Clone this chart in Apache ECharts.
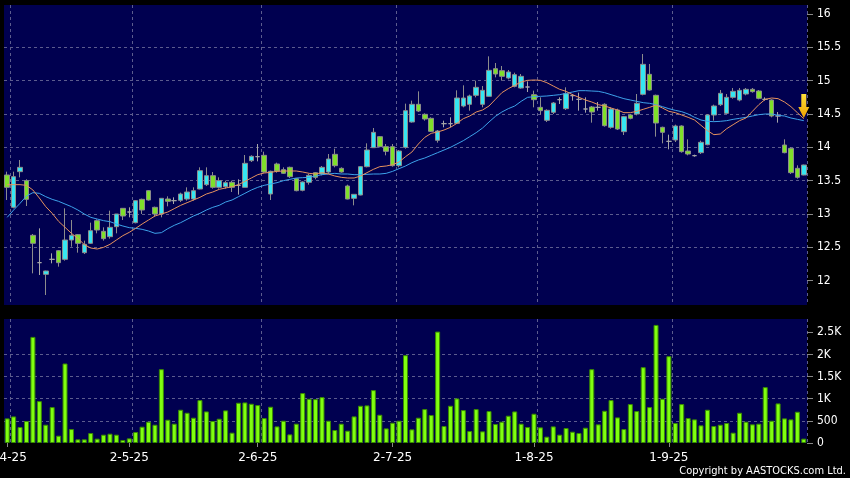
<!DOCTYPE html>
<html><head><meta charset="utf-8">
<script src="https://cdn.jsdelivr.net/npm/echarts@6/dist/echarts.min.js"></script>
<style>html,body{margin:0;padding:0;background:#000;}#c{width:850px;height:478px;}</style>
</head><body><div id="c"></div>
<script>
// x-axis tick labels (first trading day of each month) and their bar indices
const tickLabels = ['1-4-25','2-5-25','2-6-25','2-7-25','1-8-25','1-9-25'];
const tickIndex = [0,19,39,60,82,103];
const priceTicks = [12,12.5,13,13.5,14,14.5,15,15.5,16];
const volTicks = [0,500,1000,1500,2000,2500];

const open = [13.585,13.10,13.635,13.50,12.68,12.27,12.095,12.32,12.45,12.32,
12.61,12.69,12.42,12.56,12.90,12.74,12.66,12.81,13.085,13.03,
12.87,13.22,13.35,13.10,13.00,13.225,13.20,13.205,13.225,13.225,
13.375,13.44,13.575,13.40,13.41,13.475,13.43,13.40,13.80,13.86,
13.88,13.30,13.75,13.665,13.70,13.53,13.355,13.475,13.62,13.60,
13.63,13.895,13.685,13.42,13.235,13.285,13.71,13.995,14.16,14.01,
14.01,13.725,14.00,14.38,14.645,14.495,14.435,14.105,14.355,14.355,
14.36,14.62,14.645,14.78,14.645,14.765,15.18,15.15,15.04,14.915,
14.89,14.905,14.79,14.60,14.405,14.525,14.715,14.58,14.775,14.72,
14.575,14.605,14.60,14.645,14.30,14.56,14.235,14.485,14.50,14.795,
15.095,14.78,14.30,14.09,14.11,14.32,13.945,13.875,13.92,14.04,
14.485,14.64,14.51,14.75,14.71,14.80,14.87,14.845,14.72,14.71,
14.47,14.035,13.985,13.685,13.585];
const close = [13.40,13.56,13.70,13.22,12.56,12.27,12.145,12.32,12.27,12.61,
12.68,12.56,12.545,12.75,12.76,12.63,12.80,13.00,12.97,13.03,
13.20,13.06,13.21,13.00,13.235,13.19,13.20,13.30,13.33,13.35,
13.65,13.575,13.40,13.50,13.47,13.40,13.43,13.76,13.865,13.86,
13.63,13.64,13.645,13.61,13.56,13.35,13.48,13.58,13.55,13.70,
13.825,13.725,13.63,13.225,13.295,13.71,13.96,14.225,14.01,13.94,
13.725,13.945,14.55,14.645,14.545,14.425,14.24,14.245,14.355,14.355,
14.74,14.74,14.77,14.90,14.855,15.155,15.10,15.065,15.13,15.09,
15.065,14.905,14.715,14.55,14.555,14.665,14.715,14.805,14.775,14.72,
14.575,14.53,14.60,14.325,14.575,14.275,14.46,14.435,14.66,15.245,
14.86,14.365,14.225,14.09,14.32,13.935,13.90,13.875,14.075,14.485,
14.62,14.81,14.75,14.84,14.855,14.87,14.835,14.735,14.72,14.47,
14.47,13.92,13.62,13.55,13.735];
const low = [13.21,13.085,13.55,13.12,12.11,12.085,11.785,12.26,12.21,12.30,
12.51,12.42,12.40,12.55,12.71,12.60,12.63,12.71,12.91,12.95,
12.86,13.00,13.20,12.96,12.95,13.115,13.15,13.18,13.20,13.20,
13.37,13.42,13.38,13.38,13.38,13.33,13.29,13.40,13.78,13.79,
13.62,13.21,13.62,13.60,13.54,13.34,13.34,13.44,13.52,13.58,
13.60,13.70,13.62,13.22,13.13,13.28,13.70,13.99,14.00,13.88,
13.71,13.70,13.98,14.37,14.53,14.40,14.23,14.07,14.30,14.30,
14.35,14.60,14.55,14.75,14.60,14.76,15.05,15.00,15.02,14.90,
14.88,14.83,14.60,14.49,14.38,14.50,14.65,14.56,14.70,14.55,
14.52,14.37,14.55,14.31,14.28,14.26,14.185,14.42,14.48,14.78,
14.85,14.16,14.06,13.97,14.08,13.92,13.88,13.86,13.90,14.03,
14.40,14.62,14.50,14.73,14.69,14.78,14.82,14.72,14.70,14.45,
14.37,13.91,13.60,13.53,13.58];
const high = [13.635,13.635,13.81,13.52,12.70,12.785,12.15,12.41,12.46,13.085,
12.91,12.70,12.60,12.87,12.92,12.80,13.05,13.00,13.09,13.10,
13.21,13.23,13.36,13.11,13.24,13.265,13.25,13.32,13.40,13.40,
13.70,13.70,13.63,13.55,13.50,13.50,13.52,13.885,13.88,14.05,
13.935,13.65,13.77,13.70,13.71,13.54,13.49,13.60,13.63,13.72,
13.90,13.98,13.70,13.44,13.30,13.72,14.06,14.29,14.17,14.05,
14.05,13.96,14.655,14.70,14.84,14.51,14.45,14.26,14.40,14.45,
14.855,14.93,14.79,15.00,14.92,15.365,15.265,15.22,15.16,15.12,
15.10,14.99,14.85,14.75,14.57,14.68,14.75,14.90,14.80,14.82,
14.75,14.62,14.68,14.66,14.60,14.58,14.47,14.50,14.80,15.40,
15.25,14.79,14.31,14.19,14.34,14.33,14.12,13.89,14.10,14.50,
14.64,14.86,14.80,14.89,14.89,14.89,14.89,14.86,14.75,14.72,
14.53,14.12,14.00,13.73,13.74];
const volume = [556,600,360,496,2396,946,413,811,165,1795,
315,83,83,225,98,188,210,188,68,105,
248,368,481,413,1667,526,436,751,683,571,
969,713,496,548,736,233,909,916,886,856,
563,819,375,503,195,436,1127,999,991,1036,
503,293,436,278,601,841,849,1194,638,330,
458,503,1983,308,571,766,631,2516,383,841,
1006,743,270,766,263,721,428,481,616,713,
436,360,661,353,143,375,188,338,255,225,
345,1667,421,728,969,578,315,879,721,1712,
811,2666,999,1960,451,879,563,533,398,751,
383,413,451,233,683,481,421,436,1262,503,
894,556,533,706,98];
const maShort = [13.44,13.44,13.44,13.43,13.36,13.24,13.11,13.01,12.89,12.80,
12.71,12.635,12.54,12.49,12.475,12.50,12.545,12.61,12.675,12.725,
12.785,12.85,12.91,12.97,13.00,13.03,13.08,13.13,13.17,13.21,
13.25,13.30,13.33,13.37,13.39,13.41,13.44,13.49,13.54,13.59,
13.615,13.625,13.64,13.645,13.645,13.645,13.63,13.61,13.60,13.62,
13.60,13.57,13.55,13.54,13.54,13.57,13.62,13.67,13.71,13.72,
13.74,13.78,13.86,13.93,14.05,14.15,14.21,14.23,14.26,14.30,
14.36,14.43,14.47,14.53,14.56,14.62,14.72,14.82,14.88,14.93,
14.98,15.005,15.01,15.005,14.97,14.92,14.87,14.84,14.79,14.75,
14.71,14.68,14.64,14.62,14.59,14.56,14.52,14.52,14.54,14.57,
14.60,14.635,14.59,14.54,14.52,14.485,14.45,14.41,14.33,14.25,
14.19,14.20,14.28,14.34,14.40,14.44,14.54,14.64,14.72,14.74,
14.73,14.68,14.61,14.52,14.43];
const maLong = [12.95,13.06,13.16,13.27,13.32,13.31,13.26,13.22,13.19,13.15,
13.11,13.06,13.00,12.95,12.925,12.90,12.885,12.85,12.82,12.795,
12.785,12.77,12.745,12.71,12.72,12.78,12.83,12.87,12.92,12.97,
13.01,13.06,13.10,13.13,13.18,13.21,13.26,13.31,13.36,13.40,
13.43,13.45,13.47,13.50,13.52,13.54,13.545,13.55,13.57,13.59,
13.60,13.61,13.60,13.60,13.59,13.59,13.595,13.60,13.60,13.61,
13.64,13.68,13.72,13.77,13.81,13.84,13.88,13.92,13.96,14.00,
14.05,14.10,14.16,14.22,14.29,14.38,14.465,14.53,14.58,14.62,
14.69,14.75,14.76,14.765,14.77,14.78,14.79,14.81,14.83,14.85,
14.85,14.845,14.84,14.82,14.79,14.76,14.73,14.71,14.69,14.67,
14.66,14.64,14.61,14.58,14.555,14.535,14.50,14.45,14.41,14.39,
14.385,14.39,14.40,14.42,14.435,14.45,14.47,14.49,14.50,14.50,
14.48,14.47,14.44,14.42,14.40];
const signalPrice = 14.62; // down-arrow marker on the last bar

const N = open.length;
const categories = open.map((_, i) => String(i));
const candles = open.map((o, i) => [o, close[i], low[i], high[i]]);
const gridLineIdx = tickIndex.map(i => i + 1);

const FONT = '"DejaVu Sans", sans-serif';
const FONT_C = '"DejaVu Sans Condensed", "DejaVu Sans", sans-serif';
const dash = {color: '#5c5c8e', type: [3, 3], width: 1};
const PANEL = '#000050';

const chart = echarts.init(document.getElementById('c'), null, {renderer: 'canvas', width: 850, height: 478});
chart.setOption({
  backgroundColor: '#000000',
  animation: false,
  grid: [
    {left: 4, right: 43, top: 5, height: 300, show: true, backgroundColor: PANEL, borderWidth: 0, containLabel: false, outerBoundsMode: 'none'},
    {left: 4, right: 43, top: 319, height: 124, show: true, backgroundColor: PANEL, borderWidth: 0, containLabel: false, outerBoundsMode: 'none'}
  ],
  xAxis: [
    {type: 'category', gridIndex: 0, data: categories, boundaryGap: true,
     axisLine: {show: false}, axisTick: {show: false}, axisLabel: {show: false},
     splitLine: {show: true, interval: (i) => gridLineIdx.includes(i), lineStyle: dash}},
    {type: 'category', gridIndex: 1, data: categories, boundaryGap: true,
     axisLine: {show: false},
     axisTick: {show: true, alignWithLabel: true, length: 4, interval: (i) => tickIndex.includes(i), lineStyle: {color: '#888'}},
     axisLabel: {show: true, interval: (i) => tickIndex.includes(i), color: '#ffffff', fontSize: 12, fontFamily: FONT, margin: 9,
       hideOverlap: false,
       formatter: (v, i) => { const k = tickIndex.indexOf(Number(v)); return k >= 0 ? tickLabels[k] : ''; }},
     splitLine: {show: true, interval: (i) => gridLineIdx.includes(i), lineStyle: dash}}
  ],
  yAxis: [
    {type: 'value', gridIndex: 0, position: 'right', min: 11.635, max: 16.135, splitNumber: 8, scale: true,
     axisLine: {show: false},
     axisTick: {show: true, length: 6, customValues: priceTicks, lineStyle: {color: '#888'}},
     axisLabel: {color: '#ffffff', fontSize: 12, fontFamily: FONT_C, margin: 10, customValues: priceTicks},
     splitLine: {show: true, lineStyle: dash, showMinLine: false, showMaxLine: false}},
    {type: 'value', gridIndex: 1, position: 'right', min: 0, max: 2800, interval: 500,
     axisLine: {show: false},
     axisTick: {show: true, length: 6, customValues: volTicks, lineStyle: {color: '#888'}},
     axisLabel: {color: '#ffffff', fontSize: 12, fontFamily: FONT_C, margin: 10, customValues: volTicks,
       formatter: (v) => v >= 1000 ? (v / 1000) + 'K' : String(v)},
     splitLine: {show: true, lineStyle: dash, showMinLine: false, showMaxLine: false}}
  ],
  series: [
    {type: 'candlestick', xAxisIndex: 0, yAxisIndex: 0, data: candles, barWidth: 5,
     itemStyle: {color: '#35e6f2', color0: '#7fe02a', borderColor: '#8c8c8c', borderColor0: '#8c8c8c', borderColorDoji: '#a8a8a8', borderWidth: 1}},
    {type: 'line', xAxisIndex: 0, yAxisIndex: 0, data: maLong, symbol: 'none', smooth: false,
     lineStyle: {color: '#3da2ea', width: 1}, z: 3},
    {type: 'line', xAxisIndex: 0, yAxisIndex: 0, data: maShort, symbol: 'none', smooth: false,
     lineStyle: {color: '#e6925e', width: 1}, z: 4,
     markPoint: {symbol: 'path://M3,0 L8,0 L8,13 L11,13 L5.5,24 L0,13 L3,13 Z', symbolSize: [11, 24], symbolKeepAspect: false,
       label: {show: false},
       itemStyle: {color: new echarts.graphic.LinearGradient(0, 0, 0, 1, [{offset: 0, color: '#ffe23a'}, {offset: 1, color: '#f0a000'}])},
       data: [{coord: [categories[N - 1], signalPrice]}]}},
    {type: 'bar', xAxisIndex: 1, yAxisIndex: 1, data: volume, barWidth: 5,
     itemStyle: {color: '#80ff10', borderColor: '#3a8c00', borderWidth: 1}}
  ],
  graphic: [
    {type: 'text', right: 4, bottom: 1, style: {text: 'Copyright by AASTOCKS.com Ltd.', fill: '#ffffff', font: '11px "DejaVu Sans Condensed", "DejaVu Sans", sans-serif'}}
  ]
});
</script></body></html>
